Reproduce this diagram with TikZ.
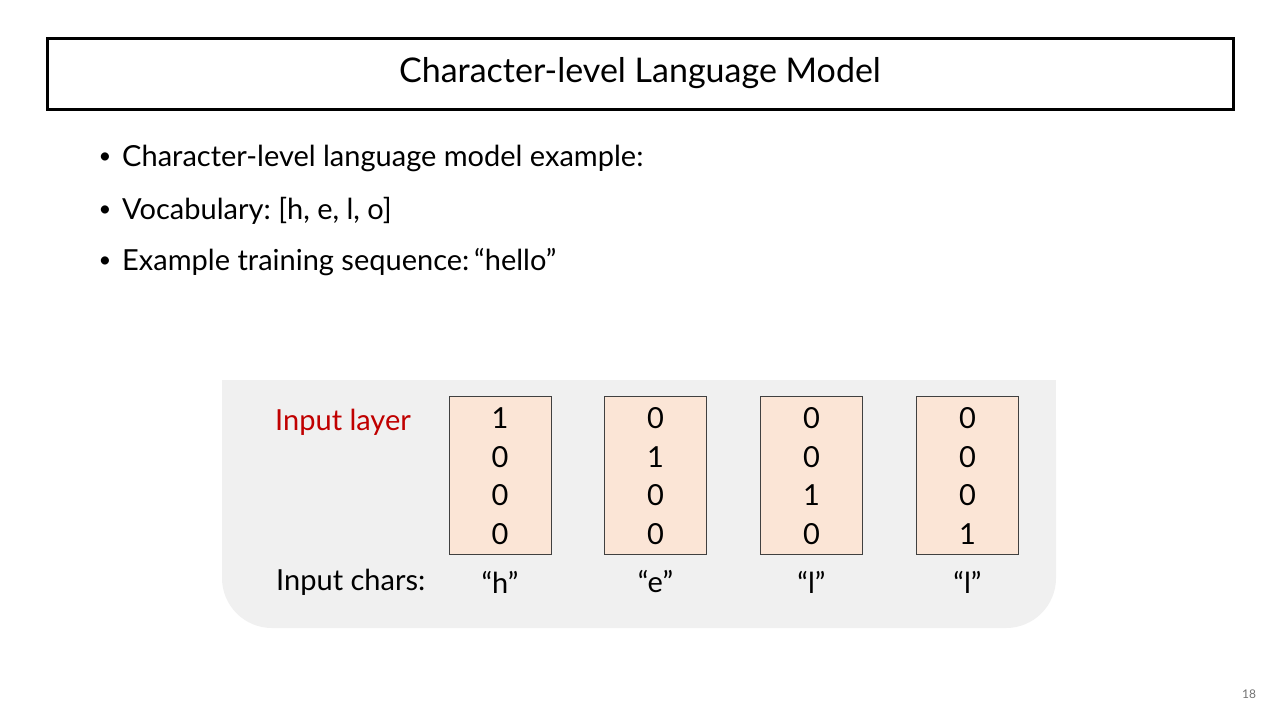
\documentclass[tikz,border=0pt]{standalone}
\usepackage{fontspec}
\setmainfont{Lato}
\usepackage{xcolor}
\usepackage{tikz}
\usetikzlibrary{
    positioning
}
\frenchspacing
\definecolor{panelgray}{HTML}{F0F0F0}
\definecolor{onehot}{HTML}{FBE5D6}
\definecolor{layerred}{HTML}{C00000}
\tikzstyle{vecbox} = [
    draw=black!75,
    fill=onehot,
    line width=1pt,
    minimum width=102pt,
    minimum height=158pt
]
\tikzstyle{item} = [
    anchor=west,
    inner sep=0pt
]

\begin{document}
\begin{tikzpicture}[x=1pt,y=-1pt,font=\fontsize{29}{34}\selectfont]
\useasboundingbox[fill=white] (0,0) rectangle (1280,720);
% title
\node[draw, line width=3pt, minimum width=1186pt, minimum height=71pt] (title) at (640,73.5) {\fontsize{34}{40}\selectfont Character-level Language Model};
% bullets
\node[item] (item1) at (122,158) {Character-level language model example:};
\node[item] (item2) at (122,211) {Vocabulary: [h, e, l, o]};
\node[item] (item3) at (122,262) {Example training sequence:\,“hello”};
\node[left=7pt of item1.west, font=\fontsize{22}{26}\selectfont] (dot1) {\textbullet};
\node[left=7pt of item2.west, font=\fontsize{22}{26}\selectfont] (dot2) {\textbullet};
\node[left=7pt of item3.west, font=\fontsize{22}{26}\selectfont] (dot3) {\textbullet};
% panel
\fill[panelgray, rounded corners=50pt] (222,380) rectangle (1056,628);
\fill[panelgray] (222,380) rectangle (1056,460);
\node[item, text=layerred] (layerlabel) at (275,422) {Input layer};
\node[item] (charlabel) at (276,582) {Input chars:};
% one-hot vectors
\foreach \i/\x/\a/\b/\c/\d/\ch in {1/500/1/0/0/0/h, 2/655.5/0/1/0/0/e, 3/811.5/0/0/1/0/l, 4/967.5/0/0/0/1/l}{
  \node[vecbox] (vec\i) at (\x,475) {};
  \node (vec\i-a) at (\x,418) {\a};
  \node (vec\i-b) at (\x,457) {\b};
  \node (vec\i-c) at (\x,495) {\c};
  \node (vec\i-d) at (\x,534) {\d};
  \node (char\i) at (\x,582) {“\ch”};
}
% page number
\node[text=black!55, font=\fontsize{12}{14}\selectfont] (pagenum) at (1249,694) {18};
\end{tikzpicture}
\end{document}
